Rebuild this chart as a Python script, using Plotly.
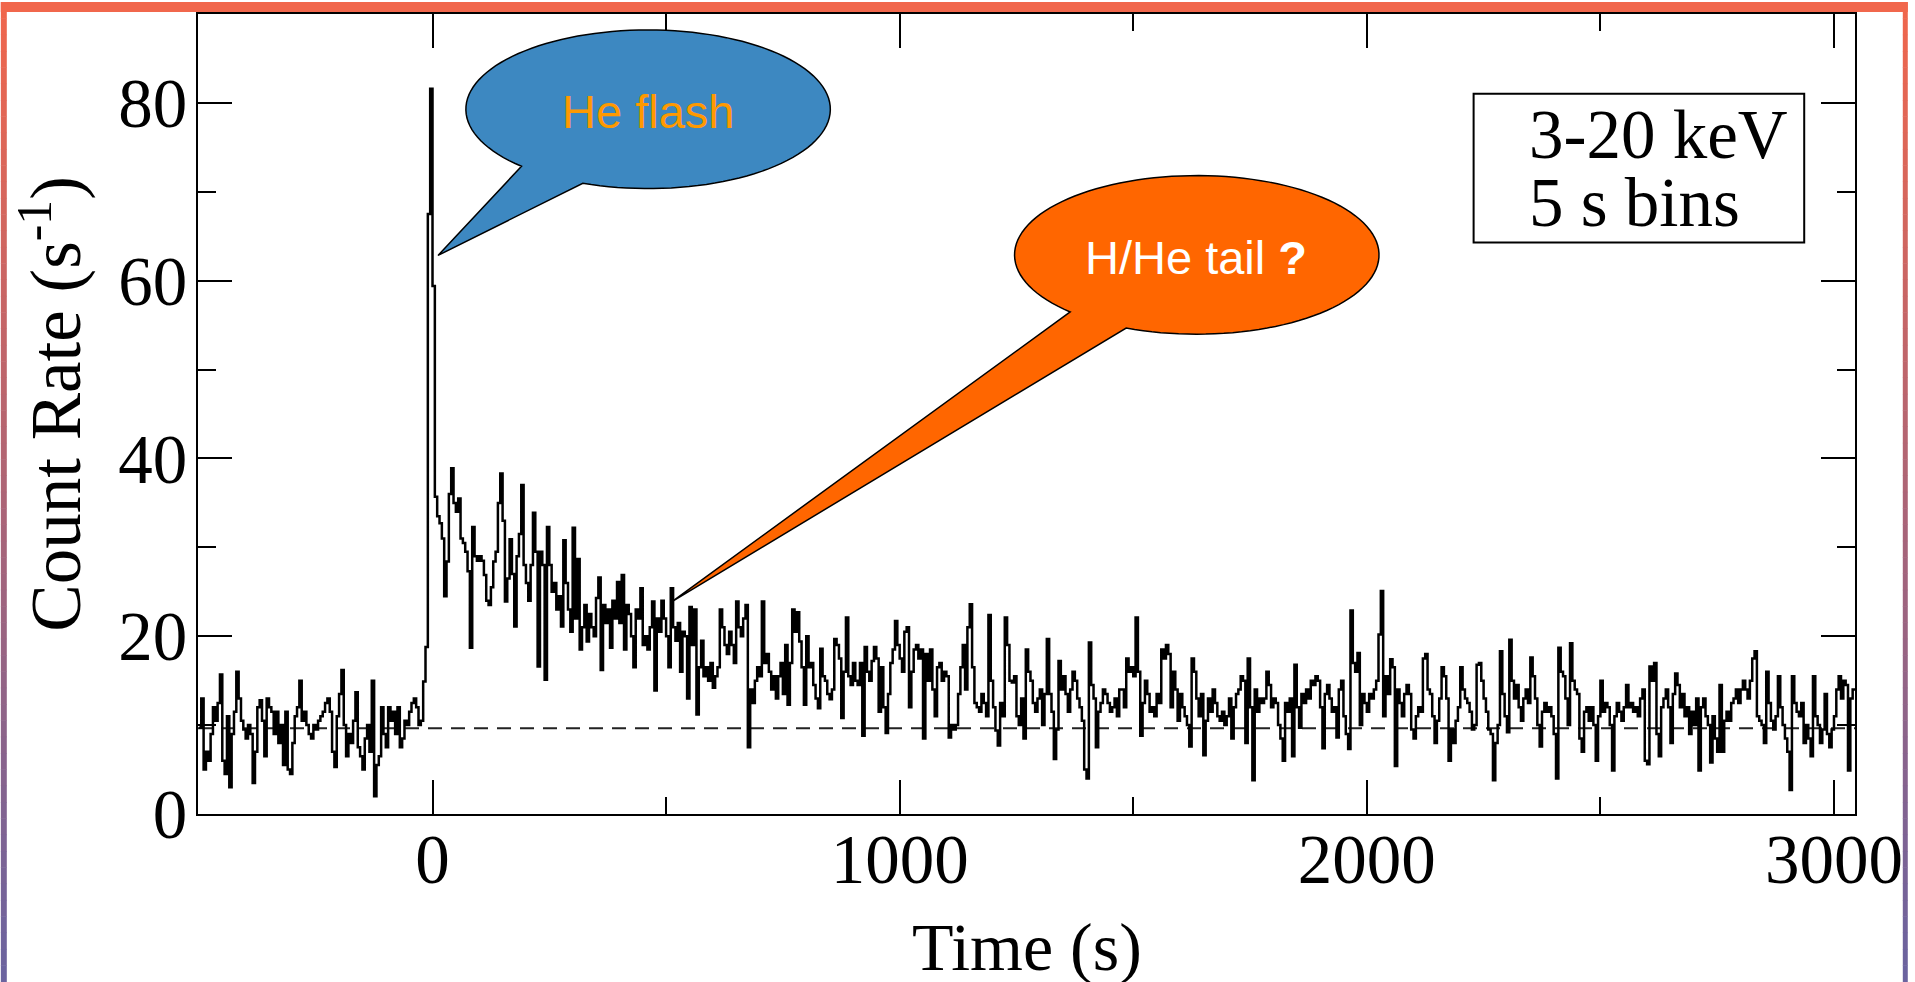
import numpy as np
import plotly.graph_objects as go

# ---------------- data (5 s bins, count rate in s^-1) ----------------
bin_width = 5
t_first = -500

rate_preburst = [  # t = -500 ... -25
    9.7, 13.0, 5.0, 7.0, 6.0, 9.0, 12.0, 10.5, 12.5, 15.7,
    6.0, 4.5, 11.0, 3.0, 9.0, 11.5, 16.0, 13.0, 10.5, 9.5,
    8.5, 10.0, 9.0, 3.5, 7.0, 12.0, 12.8, 10.5, 6.5, 13.0,
    12.0, 11.5, 9.0, 11.5, 8.0, 10.0, 5.5, 11.5, 5.0, 4.5,
    8.0, 11.0, 12.0, 15.0, 10.5, 11.5, 10.0, 9.0, 8.5, 10.0,
    9.5, 10.5, 11.0, 11.5, 12.5, 13.0, 11.5, 7.0, 5.3, 11.0,
    13.5, 16.2, 10.0, 6.5, 9.0, 8.0, 10.5, 13.7, 7.5, 6.5,
    5.0, 8.5, 10.0, 7.0, 15.0, 2.0, 5.5, 6.5, 12.0, 9.0,
    7.5, 12.0, 10.5, 11.5, 9.0, 12.0, 7.5, 8.5, 10.5, 10.0,
    11.5, 12.5, 13.0, 12.0, 10.0, 10.5]

rate_flash = [14.9, 18.8, 67.5, 81.6, 59.4]  # t = -20 ... 0

rate_decay = [  # t = 5 ... 775
    35.7, 33.5, 32.7, 31.0, 24.5, 28.4, 36.0, 38.9, 35.0, 34.0,
    35.5, 31.0, 30.5, 29.5, 27.3, 18.7, 32.3, 29.0, 28.5,
    29.0, 28.5, 26.9, 24.0, 23.5, 25.5, 28.4, 29.5, 35.0, 38.3,
    33.0, 23.9, 26.5, 30.9, 27.0, 21.1, 29.0, 31.5, 37.0, 28.0,
    26.0, 24.0, 28.0, 33.9, 29.5, 16.6, 29.5, 28.0, 15.1, 32.3,
    28.0, 25.0, 26.0, 23.0, 24.5, 21.1, 30.8, 26.0, 23.0, 20.5,
    32.2, 22.0, 28.7, 18.5, 21.0, 23.5, 19.4, 22.5, 21.0, 20.0,
    24.3, 26.6, 16.2, 23.5, 21.5, 23.0, 18.7, 24.0, 22.0, 26.1,
    21.5, 26.9, 18.5, 23.5, 22.5, 20.0, 16.5, 23.0, 22.0, 25.4,
    19.0, 20.0, 18.5, 21.0, 23.9, 13.9, 22.0, 20.5, 24.0, 22.0,
    20.0, 16.5, 25.4, 21.0, 19.5, 21.5, 16.0, 20.5, 20.0, 13.0,
    23.3, 19.0, 23.0, 11.2, 16.5, 19.5, 15.5, 16.5, 15.0, 17.0,
    14.2, 15.5, 16.5, 23.0, 21.0, 19.0, 18.0, 20.5, 19.0, 17.0,
    23.9, 21.0, 20.0, 22.0, 23.5, 7.5, 14.0, 12.5, 15.0, 16.5,
    15.5, 23.9, 17.0, 18.0, 16.0, 14.0, 15.5, 13.0, 15.5, 17.0,
    13.5, 19.0, 12.3, 17.0, 23.0, 20.5]

rate_tail = [  # t = 780 ... 1890
    22.7, 19.4, 16.5, 12.3, 20.0, 16.5, 17.0, 14.5, 13.0, 11.9,
    18.6, 15.5, 15.0, 13.5, 12.9, 14.0, 19.7, 19.0, 17.5, 10.8,
    16.0, 22.1, 15.5, 14.5, 17.0, 15.0, 14.5, 17.0, 8.8, 18.8,
    16.0, 15.0, 17.2, 18.8, 17.5, 11.5, 16.5, 12.0, 9.1, 13.5,
    17.0, 18.5, 21.7, 19.0, 17.5, 16.0, 20.5, 21.0, 12.0, 16.0,
    18.5, 19.0, 17.5, 18.5, 8.5, 18.0, 15.0, 18.5, 14.0, 11.0,
    16.5, 17.0, 15.0, 16.0, 15.5, 8.6, 10.0, 9.5, 10.0, 13.5,
    16.5, 19.0, 14.0, 21.0, 23.6, 16.5, 12.5, 12.0, 11.5, 13.5,
    12.5, 11.0, 22.4, 15.0, 12.0, 9.4, 7.7, 12.5, 11.0, 22.1,
    19.0, 15.0, 14.8, 15.5, 11.0, 10.0, 13.0, 8.5, 18.5, 16.0,
    15.0, 12.5, 11.5, 13.0, 14.0, 10.0, 13.5, 19.7, 13.5, 11.5,
    6.2, 9.5, 17.2, 14.0, 15.5, 13.5, 11.5, 14.0, 16.0, 15.0,
    13.0, 12.0, 10.5, 5.0, 4.0, 19.3, 14.5, 13.0, 7.5, 11.5,
    12.5, 14.0, 13.5, 12.5, 11.5, 12.0, 13.0, 11.0, 14.0, 14.0,
    12.0, 17.5, 16.0, 16.5, 15.5, 22.1, 16.0, 8.8, 12.5, 15.0,
    13.5, 11.5, 12.0, 11.0, 13.5, 12.5, 18.5, 17.5, 19.0, 18.0,
    12.0, 16.0, 14.0, 10.5, 13.5, 12.0, 11.0, 10.0, 7.6, 17.5,
    16.0, 13.0, 11.0, 13.5, 6.6, 10.5, 13.0, 11.5, 14.0, 12.5,
    11.0, 10.5, 11.5, 10.0, 11.0, 13.0, 8.5, 12.0, 13.5, 14.0,
    15.5, 15.0, 8.0, 17.5, 12.0, 3.8, 14.0, 11.5, 13.0, 12.5,
    13.0, 16.0, 14.5, 12.0, 13.0, 12.5, 10.0, 8.5, 6.0, 12.5,
    11.5, 13.0, 6.5, 16.8, 12.0, 9.7, 13.5, 12.5, 14.0, 13.0,
    15.0, 14.5, 15.5]

rate_late = [  # t = 1895 ... 3040
    15.0, 12.0, 7.4, 13.5, 14.5, 13.0, 11.5, 12.0, 8.6, 14.0,
    15.0, 11.0, 9.0, 7.3, 22.9, 17.0, 16.0, 18.1, 10.0, 13.5,
    12.5, 11.5, 13.5, 13.0, 14.0, 15.0, 20.2, 25.1, 11.0, 15.5,
    13.5, 17.4, 16.5, 5.4, 14.0, 12.5, 11.0, 13.5, 14.5, 13.5,
    9.5, 8.5, 11.0, 12.0, 11.5, 17.5, 18.0, 14.0, 13.5, 11.0,
    8.0, 10.5, 13.0, 16.5, 15.5, 13.0, 6.0, 9.5, 8.0, 10.5,
    12.0, 16.5, 14.0, 13.0, 12.5, 11.5, 9.5, 10.0, 16.8, 17.0,
    15.0, 13.0, 11.5, 9.5, 9.0, 3.8, 8.0, 10.0, 18.3, 13.5,
    11.0, 9.2, 19.6, 15.0, 13.0, 14.5, 12.0, 10.5, 13.0, 14.0,
    12.5, 17.6, 15.5, 13.0, 10.0, 7.6, 11.5, 12.5, 11.5, 12.0,
    11.0, 9.0, 4.0, 18.7, 16.0, 15.5, 13.0, 10.0, 19.2, 15.0,
    14.0, 13.5, 8.5, 7.0, 11.5, 12.0, 10.5, 12.0, 10.0, 6.0,
    11.0, 15.0, 11.5, 12.5, 12.0, 10.0, 4.9, 11.0, 12.5, 11.5,
    10.5, 12.0, 14.5, 12.0, 12.5, 11.5, 12.0, 11.0, 13.0, 14.0,
    6.0, 5.6, 16.6, 15.0, 17.0, 9.0, 6.5, 12.0, 13.0, 14.0,
    12.0, 8.0, 13.5, 15.8, 14.5, 12.0, 13.5, 11.0, 12.0, 9.0,
    11.5, 10.0, 13.0, 4.9, 12.0, 13.0, 11.0, 10.0, 5.8, 11.0,
    8.5, 7.0, 14.5, 7.0, 10.5, 11.5, 10.5, 12.5, 13.0, 14.0,
    12.5, 14.0, 15.0, 14.0, 13.0, 15.0, 17.5, 18.3, 11.0, 10.5,
    10.0, 8.0, 16.0, 12.5, 10.5, 9.5, 11.0, 15.5, 12.0, 10.0,
    8.5, 7.0, 2.7, 15.5, 12.5, 11.5, 11.0, 12.5, 8.0, 10.0,
    8.5, 6.5, 15.5, 11.0, 10.0, 8.0, 9.5, 13.5, 9.0, 7.5,
    9.5, 11.0, 14.0, 15.5, 13.0, 15.0, 14.5, 4.9, 13.0, 14.0]

persistent_level = 9.65  # pre-burst (persistent) emission, dashed line

x_range = [-502, 3045]
y_range = [0, 90]
x_major = [0, 1000, 2000, 3000]
y_major = [0, 20, 40, 60, 80]

box_lines = ["3-20 keV", "5 s bins"]
label_flash = "He flash"
label_tail = "H/He tail <b>?</b>"

# ---------------- build series ----------------
rates = np.array(rate_preburst + rate_flash + rate_decay + rate_tail + rate_late)
t_edges = t_first + bin_width * np.arange(len(rates) + 1)
x_step = t_edges
y_step = np.append(rates, rates[-1])

# ---------------- page geometry (pixels) ----------------
W, H = 1915, 982
L, R, T, B = 198, 53, 12, 168
PW, PH = W - L - R, H - T - B


def px(x):
    return (x - L) / PW


def py(y):
    return (H - B - y) / PH


fig = go.Figure()

fig.add_trace(go.Scatter(
    x=x_range, y=[persistent_level, persistent_level], mode="lines",
    line=dict(color="#222222", width=2, dash="14px,9px"),
    hoverinfo="skip", showlegend=False))

fig.add_trace(go.Scatter(
    x=x_step, y=y_step, mode="lines", line_shape="hv",
    line=dict(color="black", width=2.5), showlegend=False))

shapes = []

# gradient frame (orange top -> purple bottom)
c_top = np.array([241, 103, 76])
c_bot = np.array([106, 99, 160])
n_band = 60
for k in range(n_band):
    y0 = H * k / n_band
    y1 = H * (k + 1) / n_band + 0.5
    f = (k + 0.5) / n_band
    c = c_top * (1 - f) + c_bot * f
    col = "rgb(%d,%d,%d)" % tuple(c.astype(int))
    for (xa, xb) in [(0, 6), (1910, W)]:
        shapes.append(dict(type="rect", xref="paper", yref="paper",
                           x0=px(xa), x1=px(xb), y0=py(y1), y1=py(y0),
                           fillcolor=col, line=dict(width=0), layer="above"))
shapes.append(dict(type="rect", xref="paper", yref="paper",
                   x0=px(0), x1=px(W), y0=py(10), y1=py(0),
                   fillcolor="rgb(241,103,76)", line=dict(width=0), layer="above"))

# info box
shapes.append(dict(type="rect", xref="paper", yref="paper",
                   x0=px(1479), x1=px(1811), y0=py(241), y1=py(92),
                   fillcolor="white", line=dict(color="black", width=2), layer="above"))


def callout(cx, cy, rx, ry, a_start, a_end, tip):
    angs = np.radians(np.linspace(a_start, a_end, 120))
    pts = [(cx + rx * np.cos(a), cy + ry * np.sin(a)) for a in angs]
    pts.append(tip)
    d = "M " + " L ".join("%.5f,%.5f" % (px(x), py(y)) for x, y in pts) + " Z"
    return d


shapes.append(dict(type="path", xref="paper", yref="paper",
                   path=callout(650, 107.5, 183, 79.5, 134, 471, (439, 254)),
                   fillcolor="rgb(61,136,193)", line=dict(color="black", width=1.5),
                   layer="above"))
shapes.append(dict(type="path", xref="paper", yref="paper",
                   path=callout(1201, 253.5, 183, 79.5, 134, 472.8, (674, 601)),
                   fillcolor="rgb(255,102,0)", line=dict(color="black", width=1.5),
                   layer="above"))

serif = "Liberation Serif, Times New Roman, serif"
sans = "Liberation Sans, Arial, sans-serif"
ann = []
ann.append(dict(x=px(650), y=py(109.7), xref="paper", yref="paper", text=label_flash,
                showarrow=False, xanchor="center", yanchor="middle",
                font=dict(family=sans, size=47, color="rgb(255,153,0)")))
ann.append(dict(x=px(1200), y=py(255.7), xref="paper", yref="paper", text=label_tail,
                showarrow=False, xanchor="center", yanchor="middle",
                font=dict(family=sans, size=47, color="white")))
ann.append(dict(x=px(1533), y=py(133.7), xref="paper", yref="paper", text=box_lines[0],
                showarrow=False, xanchor="left", yanchor="middle",
                font=dict(family=serif, size=69, color="black")))
ann.append(dict(x=px(1533), y=py(201.7), xref="paper", yref="paper", text=box_lines[1],
                showarrow=False, xanchor="left", yanchor="middle",
                font=dict(family=serif, size=69, color="black")))
ann.append(dict(x=px(1031), y=py(947), xref="paper", yref="paper", text="Time (s)",
                showarrow=False, xanchor="center", yanchor="middle",
                font=dict(family=serif, size=68, color="black")))
ann.append(dict(x=px(51), y=py(403), xref="paper", yref="paper",
                text="Count Rate (s<sup>-1</sup>)", textangle=-90,
                showarrow=False, xanchor="center", yanchor="middle",
                font=dict(family=serif, size=71, color="black")))

axis_common = dict(showline=True, linecolor="black", linewidth=2, mirror="ticks",
                   ticks="inside", tickwidth=2, tickcolor="black", ticklen=34,
                   showgrid=False, zeroline=False,
                   tickfont=dict(family=serif, size=69, color="black"))

fig.update_layout(
    width=W, height=H,
    margin=dict(l=L, r=R, t=T, b=B, pad=0),
    paper_bgcolor="white", plot_bgcolor="white",
    showlegend=False,
    xaxis=dict(range=x_range, tickvals=x_major, ticktext=[str(v) for v in x_major],
               ticklabelstandoff=-16,
               minor=dict(dtick=500, tick0=0, ticklen=17, tickwidth=2, ticks="inside",
                          tickcolor="black"),
               **axis_common),
    yaxis=dict(range=y_range, tickvals=y_major, ticktext=[str(v) for v in y_major],
               ticklabelstandoff=-5,
               minor=dict(dtick=10, tick0=0, ticklen=18, tickwidth=2, ticks="inside",
                          tickcolor="black"),
               **axis_common),
    shapes=shapes,
    annotations=ann,
)

fig.write_html(
    "out.html",
    config={"displayModeBar": False},
    post_script="document.body.style.margin='0px';document.body.style.padding='0px';"
                "document.body.style.overflow='hidden';",
)
